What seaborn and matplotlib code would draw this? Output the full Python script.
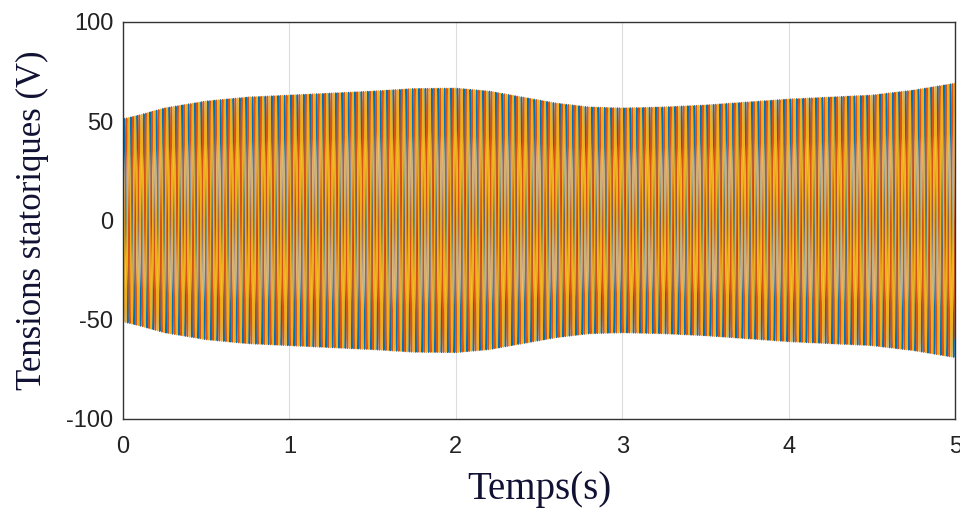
import numpy as np
import pandas as pd
import matplotlib
matplotlib.use("Agg")
import matplotlib.pyplot as plt
import seaborn as sns

# Enveloppe (amplitude crête en V)
temps_env = [0.0, 0.1, 0.25, 0.5, 0.75, 1.0, 1.25, 1.5, 1.75, 2.0, 2.2, 2.4,
             2.6, 2.8, 3.0, 3.25, 3.5, 3.75, 4.0, 4.25, 4.5, 4.75, 5.0]
ampl_env = [51, 53, 56.5, 60, 62, 63, 64, 65, 66.3, 66.5, 65, 62,
            59, 57, 56.5, 57, 58, 59.5, 61, 62, 63, 65.5, 69]
freq = 26.0  # fréquence apparente des bandes
phases = ["Va", "Vb", "Vc"]
couleurs = ["#0072BD", "#D95319", "#EDB120"]
x_ticks = [0, 1, 2, 3, 4, 5]
y_ticks = [-100, -50, 0, 50, 100]
y_labels = ["-100", "-50", "0", "50", "100"]

t = np.linspace(0, 5, 30000)
amp = np.interp(t, temps_env, ampl_env)
frames = []
for k, ph in enumerate(phases):
    v = amp * np.sin(2 * np.pi * freq * t - k * 2 * np.pi / 3)
    frames.append(pd.DataFrame({"t": t, "v": v, "phase": ph}))
df = pd.concat(frames, ignore_index=True)

sns.set_style("white")
plt.rcParams["font.family"] = ["Liberation Sans", "DejaVu Sans"]

fig = plt.figure(figsize=(9.6, 5.21), dpi=100)
ax = fig.add_axes([0.128, 0.196, 0.867, 0.762])
ax.grid(True, color="#dddddd", linewidth=0.8)
ax.set_axisbelow(True)

sns.lineplot(data=df, x="t", y="v", hue="phase", palette=couleurs,
             estimator=None, linewidth=1.15, legend=False, ax=ax)

ax.set_xlim(0, 5)
ax.set_ylim(-100, 100)
ax.set_xticks(x_ticks)
ax.set_yticks(y_ticks)
ax.set_yticklabels(y_labels)
ax.tick_params(axis="x", direction="in", length=5, labelsize=17, colors="#222222", pad=12)
ax.tick_params(axis="y", direction="in", length=5, labelsize=17, colors="#222222", pad=7)
for s in ax.spines.values():
    s.set_color("#333333")
    s.set_linewidth(1.0)
    s.set_visible(True)

ax.set_xlabel("Temps(s)", fontsize=28, family="Liberation Serif", labelpad=10,
              color="#111133")
ax.set_ylabel("Tensions statoriques (V)", fontsize=25, family="Liberation Serif",
              labelpad=12, color="#111133")

fig.savefig("out.png", dpi=100)
